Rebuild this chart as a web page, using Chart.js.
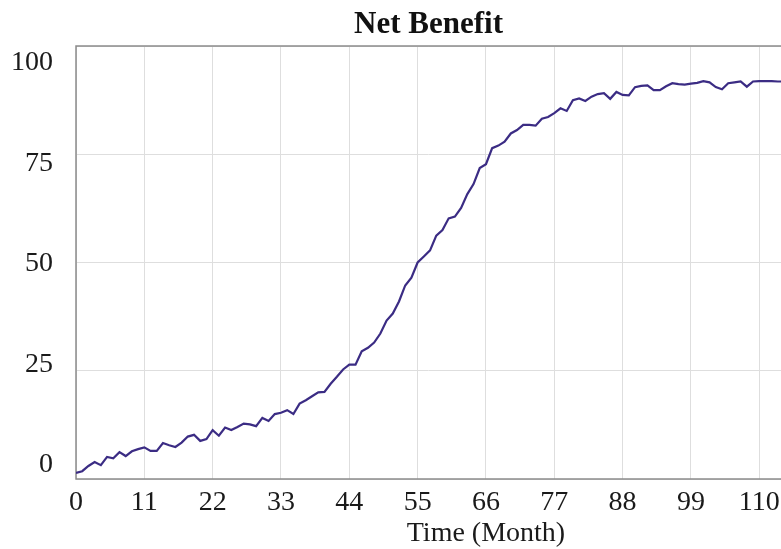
<!DOCTYPE html>
<html lang="en">
<head>
<meta charset="utf-8" />
<script src="https://cdn.jsdelivr.net/npm/chart.js@4.4.1/dist/chart.umd.min.js"></script>
<title>Net Benefit</title>
<style>
  html, body { margin: 0; padding: 0; background: #fff; }
  #wrap { width: 781px; height: 549px; }
</style>
</head>
<body>
<div id="wrap"><canvas id="grafico" width="781" height="549"></canvas></div>
<script>
// valores, uno por mes
const netBenefit = [
  1.4, 1.8, 3.0, 3.9, 3.2, 5.1, 4.8, 6.2, 5.3, 6.4,
  6.9, 7.3, 6.5, 6.5, 8.3, 7.8, 7.4, 8.4, 9.8, 10.2,
  8.8, 9.2, 11.3, 10.0, 11.9, 11.3, 12.0, 12.8, 12.6, 12.2,
  14.1, 13.4, 15.0, 15.3, 15.9, 15.0, 17.4, 18.2, 19.1, 20.0,
  20.1, 22.0, 23.6, 25.3, 26.4, 26.4, 29.5, 30.3, 31.5, 33.6,
  36.6, 38.2, 41.0, 44.7, 46.5, 50.0, 51.4, 52.8, 56.2, 57.5,
  60.2, 60.6, 62.6, 65.8, 68.1, 71.8, 72.7, 76.4, 77.0, 77.9,
  79.8, 80.6, 81.8, 81.8, 81.6, 83.2, 83.6, 84.5, 85.6, 85.0,
  87.5, 87.9, 87.3, 88.3, 88.9, 89.1, 87.8, 89.4, 88.7, 88.6,
  90.5, 90.8, 90.9, 89.8, 89.8, 90.7, 91.4, 91.2, 91.1, 91.3,
  91.5, 91.9, 91.6, 90.5, 90.0, 91.4, 91.6, 91.8, 90.6, 91.8,
  91.9, 91.9, 91.9, 91.8, 91.8
];
// el mes es simplemente el indice
const months = netBenefit.map((v, i) => i);
const xTicks = [0, 11, 22, 33, 44, 55, 66, 77, 88, 99, 110];
const yTicks = [0, 25, 50, 75, 100];
const chartTitle = "Net Benefit";
const xTitle = "Time (Month)";

const serif = '"Liberation Serif", "Times New Roman", serif';

// marco gris y titulo del eje x (va algo corrido a la derecha en el original)
const marco = {
  id: 'marco',
  beforeDatasetsDraw(chart) {
    const { ctx, chartArea: a } = chart;
    ctx.save();
    ctx.strokeStyle = '#8c8c8c';
    ctx.lineWidth = 1.5;
    ctx.beginPath();
    ctx.moveTo(a.right + 2, a.top);
    ctx.lineTo(a.left, a.top);
    ctx.lineTo(a.left, a.bottom);
    ctx.lineTo(a.right + 2, a.bottom);
    ctx.stroke();
    ctx.restore();
  },
  afterDraw(chart) {
    const { ctx, scales } = chart;
    ctx.save();
    ctx.fillStyle = '#1a1a1a';
    ctx.font = '28px ' + serif;
    ctx.textAlign = 'center';
    ctx.textBaseline = 'alphabetic';
    ctx.fillText(xTitle, scales.x.getPixelForValue(66), 541);
    ctx.restore();
  }
};

new Chart(document.getElementById('grafico').getContext('2d'), {
  type: 'line',
  data: {
    labels: months,
    datasets: [{
      label: chartTitle,
      data: netBenefit,
      borderColor: '#3b2c84',
      borderWidth: 2.2,
      pointRadius: 0,
      tension: 0,
      fill: false,
      yAxisID: 'y'
    }]
  },
  options: {
    responsive: false,
    animation: false,
    layout: { padding: 0 },
    plugins: {
      legend: { display: false },
      tooltip: { enabled: false },
      title: {
        display: true,
        text: chartTitle,
        fullSize: false,
        color: '#111',
        font: { family: serif, size: 31, weight: 'bold' },
        padding: { top: 6, bottom: 2.8 }
      }
    },
    scales: {
      x: {
        type: 'linear',
        min: 0,
        max: 113.5,
        afterBuildTicks: s => { s.ticks = xTicks.map(v => ({ value: v })); },
        afterFit: s => { s.height = 70; s.paddingLeft = 0; s.paddingRight = 0; },
        ticks: { color: '#1a1a1a', font: { family: serif, size: 28 }, padding: 7 },
        grid: { color: '#dedede', lineWidth: 1, drawTicks: false },
        border: { display: false }
      },
      y: {
        position: 'left',
        min: 0,
        max: 100,
        afterBuildTicks: s => { s.ticks = yTicks.map(v => ({ value: v })); },
        afterFit: s => { s.width = 0; s.paddingTop = 0; s.paddingBottom = 0; },
        ticks: { display: false },
        grid: { color: '#dedede', lineWidth: 1, drawTicks: false },
        border: { display: false }
      },
      // eje solo para las etiquetas, que en el original no caen justo en las lineas
      yLab: {
        position: 'left',
        min: -3.48,
        max: 104.2,
        afterBuildTicks: s => { s.ticks = yTicks.map(v => ({ value: v })); },
        afterFit: s => { s.width = 76; s.paddingTop = 0; s.paddingBottom = 0; },
        ticks: { color: '#1a1a1a', font: { family: serif, size: 28 }, padding: 23 },
        grid: { display: false, drawTicks: false },
        border: { display: false }
      }
    }
  },
  plugins: [marco]
});
</script>
</body>
</html>
